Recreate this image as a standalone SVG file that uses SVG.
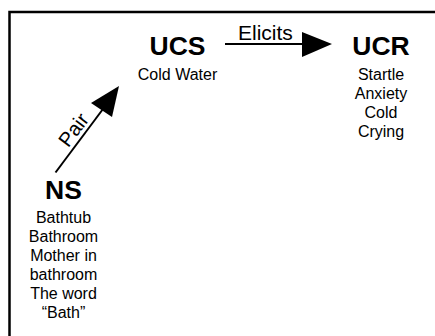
<svg xmlns="http://www.w3.org/2000/svg" width="435" height="336" viewBox="0 0 435 336">
<style>
.h{font-family:"Liberation Sans",Arial,sans-serif;font-weight:bold;font-size:26.5px;text-anchor:middle;fill:#000}
.t{font-family:"Liberation Sans",Arial,sans-serif;font-size:16px;text-anchor:middle;fill:#000}
.l{font-family:"Liberation Sans",Arial,sans-serif;font-size:21px;fill:#000}
.c{stroke:#000;stroke-width:2;fill:none}
</style>
<rect width="435" height="336" fill="#fff"/>
<rect x="9.5" y="12" width="440" height="340" fill="none" stroke="#000" stroke-width="2.5"/>
<g id="ucs">
<text class="h" x="177.5" y="55">UCS</text>
<text class="t" x="177.5" y="80">Cold Water</text>
</g>
<g id="ucr">
<text class="h" x="381" y="55">UCR</text>
<text class="t" x="381" y="80">Startle</text>
<text class="t" x="381" y="99">Anxiety</text>
<text class="t" x="381" y="118">Cold</text>
<text class="t" x="381" y="137">Crying</text>
</g>
<g id="ns">
<text class="h" x="63.5" y="199">NS</text>
<text class="t" x="63.5" y="223">Bathtub</text>
<text class="t" x="63.5" y="242">Bathroom</text>
<text class="t" x="63.5" y="261">Mother in</text>
<text class="t" x="63.5" y="280">bathroom</text>
<text class="t" x="63.5" y="299">The word</text>
<text class="t" x="63.5" y="318">“Bath”</text>
</g>
<g id="connectors">
<line class="c" x1="225" y1="44" x2="304" y2="44"/>
<polygon points="302,32 332,44 302,57" fill="#000"/>
<text class="l" x="238" y="40">Elicits</text>
<line class="c" x1="55.5" y1="172.5" x2="103" y2="109"/>
<polygon points="119,86 112,117 91,103" fill="#000"/>
<text class="l" transform="translate(79,134) rotate(-53)" text-anchor="middle" style="font-size:20px">Pair</text>
</g>
</svg>
